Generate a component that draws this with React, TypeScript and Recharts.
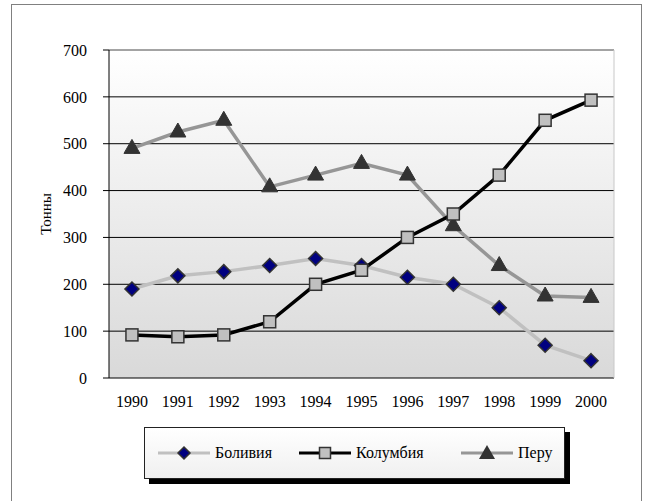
import React from 'react';
import { LineChart, Line, XAxis, YAxis, CartesianGrid, ReferenceLine } from 'recharts';

// данные: производство коки, тонны
const years = ['1990', '1991', '1992', '1993', '1994', '1995', '1996', '1997', '1998', '1999', '2000'];
const bolivia = [190, 218, 227, 240, 255, 240, 215, 200, 150, 70, 37];
const colombia = [92, 88, 92, 120, 200, 230, 300, 350, 433, 550, 593];
const peru = [490, 525, 550, 408, 433, 458, 433, 325, 240, 175, 172];
const yTicks = [0, 100, 200, 300, 400, 500, 600, 700];

const FONT = '"Liberation Serif", "Times New Roman", serif';

const data = years.map((year, i) => ({
  x: i + 0.5,
  year,
  bolivia: bolivia[i],
  colombia: colombia[i],
  peru: peru[i],
}));

const boundaryTicks = [...years.map((_, i) => i), years.length];
const centerTicks = years.map((_, i) => i + 0.5);

const diamondPath = (cx: number, cy: number, r: number) =>
  `M${cx},${cy - r}L${cx + r},${cy}L${cx},${cy + r}L${cx - r},${cy}Z`;
const trianglePath = (cx: number, cy: number) =>
  `M${cx},${cy - 9}L${cx + 8},${cy + 5}L${cx - 8},${cy + 5}Z`;

const DiamondDot = (p: any) =>
  p.cx == null ? null : (
    <path key={`d-${p.index}`} d={diamondPath(p.cx, p.cy, 7)} fill="#000080" stroke="#333" strokeWidth={1.5} />
  );
const SquareDot = (p: any) =>
  p.cx == null ? null : (
    <rect key={`s-${p.index}`} x={p.cx - 6} y={p.cy - 6} width={12} height={12} fill="#c0c0c0" stroke="#333" strokeWidth={1.5} />
  );
const TriangleDot = (p: any) =>
  p.cx == null ? null : <path key={`t-${p.index}`} d={trianglePath(p.cx, p.cy)} fill="#333" stroke="#333" strokeWidth={1} />;

const legendItems = [
  { name: 'Боливия', color: '#c0c0c0', marker: 'diamond', left: 13 },
  { name: 'Колумбия', color: '#000', marker: 'square', left: 154 },
  { name: 'Перу', color: '#969696', marker: 'triangle', left: 316 },
];

function LegendIcon({ color, marker }: { color: string; marker: string }) {
  return (
    <svg width={52} height={18} style={{ display: 'block' }}>
      <line x1={0} y1={9} x2={52} y2={9} stroke={color} strokeWidth={3} />
      {marker === 'diamond' && <path d={diamondPath(26, 9, 6)} fill="#000080" stroke="#333" strokeWidth={1.5} />}
      {marker === 'square' && <rect x={20.5} y={3.5} width={11} height={11} fill="#c0c0c0" stroke="#333" strokeWidth={1.5} />}
      {marker === 'triangle' && <path d="M26,1L34,15L18,15Z" fill="#333" />}
    </svg>
  );
}

export default function App() {
  return (
    <div style={{ position: 'absolute', left: 0, top: 0, width: 647, height: 501, background: '#fff', fontFamily: FONT }}>
      <svg width={0} height={0} style={{ position: 'absolute' }}>
        <defs>
          <linearGradient id="plotBg" x1="0" y1="0" x2="0" y2="1">
            <stop offset="0%" stopColor="#ffffff" />
            <stop offset="100%" stopColor="#d9d9d9" />
          </linearGradient>
        </defs>
      </svg>
      <div
        style={{
          position: 'absolute',
          left: 11,
          top: 4,
          width: 631,
          height: 500,
          border: '1px solid #808080',
          boxSizing: 'border-box',
        }}
      />
      <div style={{ position: 'absolute', left: 0, top: 0 }}>
        <LineChart width={647} height={501} data={data} margin={{ top: 50, right: 33, bottom: 93, left: 0 }}>
          <CartesianGrid
            xAxisId="years"
            vertical={false}
            stroke="#000"
            strokeWidth={1}
            fill="url(#plotBg)"
            fillOpacity={1}
          />
          <XAxis
            xAxisId="marks"
            type="number"
            dataKey="x"
            domain={[0, years.length]}
            ticks={boundaryTicks}
            tick={false}
            tickSize={5}
            height={0}
            axisLine={{ stroke: '#000' }}
            tickLine={{ stroke: '#000' }}
          />
          <XAxis
            xAxisId="years"
            type="number"
            dataKey="x"
            domain={[0, years.length]}
            ticks={centerTicks}
            tickFormatter={(v: number) => years[Math.floor(v)]}
            tickSize={0}
            tickMargin={18}
            height={30}
            axisLine={false}
            tickLine={false}
            interval={0}
            tick={{ fill: '#000', fontSize: 16, fontFamily: FONT }}
          />
          <YAxis
            type="number"
            domain={[0, 700]}
            ticks={yTicks}
            width={109}
            tickSize={6}
            tickMargin={16}
            axisLine={{ stroke: '#000' }}
            tickLine={{ stroke: '#000' }}
            tick={{ fill: '#000', fontSize: 16, fontFamily: FONT }}
          />
          <ReferenceLine xAxisId="years" y={700} stroke="#c8c8c8" strokeWidth={1} />
          <ReferenceLine xAxisId="years" x={years.length} stroke="#c8c8c8" strokeWidth={1} />
          <Line
            xAxisId="years"
            dataKey="bolivia"
            stroke="#c0c0c0"
            strokeWidth={3.5}
            isAnimationActive={false}
            dot={DiamondDot}
          />
          <Line
            xAxisId="years"
            dataKey="peru"
            stroke="#969696"
            strokeWidth={3.5}
            isAnimationActive={false}
            dot={TriangleDot}
          />
          <Line
            xAxisId="years"
            dataKey="colombia"
            stroke="#000"
            strokeWidth={3.5}
            isAnimationActive={false}
            dot={SquareDot}
          />
        </LineChart>
      </div>
      <div
        style={{
          position: 'absolute',
          left: 46,
          top: 214,
          transform: 'translate(-50%, -50%) rotate(-90deg)',
          fontSize: 15,
          whiteSpace: 'nowrap',
          color: '#000',
          lineHeight: '18px',
        }}
      >
        Тонны
      </div>
      <div
        style={{
          position: 'absolute',
          left: 144,
          top: 427,
          width: 421,
          height: 52,
          boxSizing: 'border-box',
          border: '1px solid #222',
          background: 'linear-gradient(#ffffff, #f0f0f0)',
          boxShadow: '5px 5px 0 #000',
        }}
      >
        {legendItems.map((item) => (
          <div
            key={item.name}
            style={{ position: 'absolute', left: item.left, top: 16, display: 'flex', alignItems: 'center', height: 18 }}
          >
            <LegendIcon color={item.color} marker={item.marker} />
            <span style={{ marginLeft: 5, fontSize: 16, color: '#000', lineHeight: '18px' }}>{item.name}</span>
          </div>
        ))}
      </div>
    </div>
  );
}
